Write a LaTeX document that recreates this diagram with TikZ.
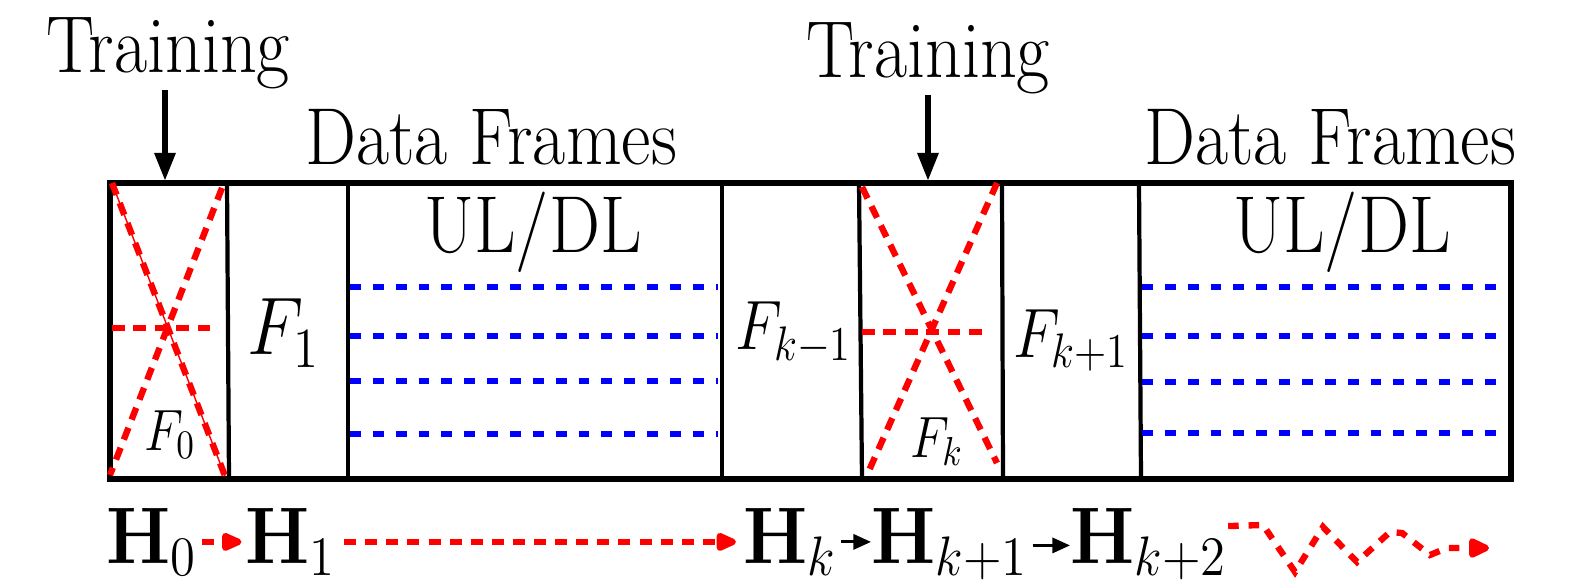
\documentclass[tikz,border=0pt]{standalone}
\usepackage{amsmath}
\usetikzlibrary{arrows.meta,positioning}
\DeclareMathSizes{20.5}{20.5}{15.6}{11}

\begin{document}
\begin{tikzpicture}[
  x=0.01cm, y=-0.01cm,
  lbl/.style={font=\fontsize{20.5}{24}\selectfont, inner sep=0pt, anchor=base, yscale=1.12, transform shape},
  midlbl/.style={font=\fontsize{16.5}{20}\selectfont, inner sep=0pt, anchor=base, yscale=1.15, transform shape},
  sublbl/.style={font=\fontsize{14}{16}\selectfont, inner sep=0pt, anchor=base, yscale=1.15, transform shape},
  hlbl/.style={font=\fontsize{20.5}{24}\selectfont, inner sep=0pt, anchor=base west, yscale=1.1, transform shape},
  frame/.style={line width=1.5pt},
  slot/.style={line width=1.2pt},
  cross/.style={red, line width=1.8pt, dash pattern=on 3.6pt off 2.5pt},
  chan/.style={blue, line width=1.7pt, dash pattern=on 3.1pt off 3.4pt},
  down/.style={-{Triangle[length=8pt,width=5.7pt]}, line width=1.7pt},
  flow/.style={red, line width=1.8pt, dash pattern=on 3.4pt off 2.6pt, -{Triangle[length=7pt,width=5.5pt,round]}},
  hop/.style={-{Triangle[length=5pt,width=4.3pt]}, line width=0.8pt}
]
  \useasboundingbox (0,0) rectangle (1569,582);

  % headings
  \node[lbl] (train1) at (168,73) {Training};
  \node[lbl] (train2) at (928,78) {Training};
  \node[lbl] (data1) at (491,165) {Data Frames};
  \node[lbl] (data2) at (1330,165) {Data Frames};

  % frame and slots
  \draw[frame] (110,183) rectangle (1511,479);
  \foreach \xa/\xb in {227/229, 348/348, 722/722, 859/862, 1002/1003, 1139/1141}
    \draw[slot] (\xa,183) -- (\xb,479);

  \coordinate (hit1) at (165,181);
  \coordinate (hit2) at (928,181);
  \draw[down] (hit1 |- train1.south) -- (hit1);
  \draw[down] (hit2 |- train2.south) -- (hit2);

  % training slots
  \draw[cross] (112,183) -- (225,476);
  \draw[red, line width=0.4pt] (112,183) -- (225,476);
  \draw[cross] (222,188) -- (110,475);
  \draw[cross] (112,328) -- (216,328);
  \draw[cross] (862,187) -- (997,463);
  \draw[cross] (997,183) -- (867,475);
  \draw[cross] (862,332) -- (989,332);

  % UL/DL channels
  \foreach \y in {287,336,381,434}
    \draw[chan] (350,\y) -- (718,\y);
  \foreach \y in {287,336,382,433}
    \draw[chan] (1142,\y) -- (1502,\y);

  \node[lbl] (ul1) at (533,252) {UL/DL};
  \node[lbl] (ul2) at (1342,252) {UL/DL};
  \node[lbl] (f1) at (284,355) {$F_1$};
  \node[midlbl] (fkm) at (794,350) {$F_{k-1}$};
  \node[midlbl] (fkp) at (1071,357) {$F_{k+1}$};
  \node[sublbl] (f0) at (170,450) {$F_0$};
  \node[sublbl] (fk) at (937,457) {$F_k$};

  % channel estimates
  \node[hlbl] (h0) at (106,563) {$\mathbf{H}_0$};
  \node[hlbl] (h1) at (245,563) {$\mathbf{H}_1$};
  \node[hlbl] (hk) at (743,563) {$\mathbf{H}_k$};
  \node[hlbl] (hk1) at (871,563) {$\mathbf{H}_{k+1}$};
  \node[hlbl] (hk2) at (1070,563) {$\mathbf{H}_{k+2}$};

  \draw[flow, shorten <=1pt, shorten >=1pt] ([yshift=6pt]h0.base east) -- ([yshift=6pt]h1.base west);
  \draw[flow, shorten <=2pt, shorten >=2pt] ([yshift=6pt]h1.base east) -- ([yshift=6pt]hk.base west);
  \draw[hop, shorten <=1pt] ([yshift=6pt]hk.base east) -- ([yshift=6pt]hk1.base west);
  \draw[hop, shorten <=1pt] ([yshift=5pt]hk1.base east) -- ([yshift=5pt]hk2.base west);

  \coordinate (wend) at (1489,548);
  \draw[flow, dash pattern=on 3pt off 2.8pt, -{Triangle[length=7pt,width=6pt,round]}]
    ([yshift=10.5pt]hk2.base east) -- (1263,525) -- (1295,572) -- (1323,527) -- (1357,562)
    -- (1390,532) -- (1402,533) -- (1430,555) -- (1447,548) -- (wend);
\end{tikzpicture}
\end{document}
